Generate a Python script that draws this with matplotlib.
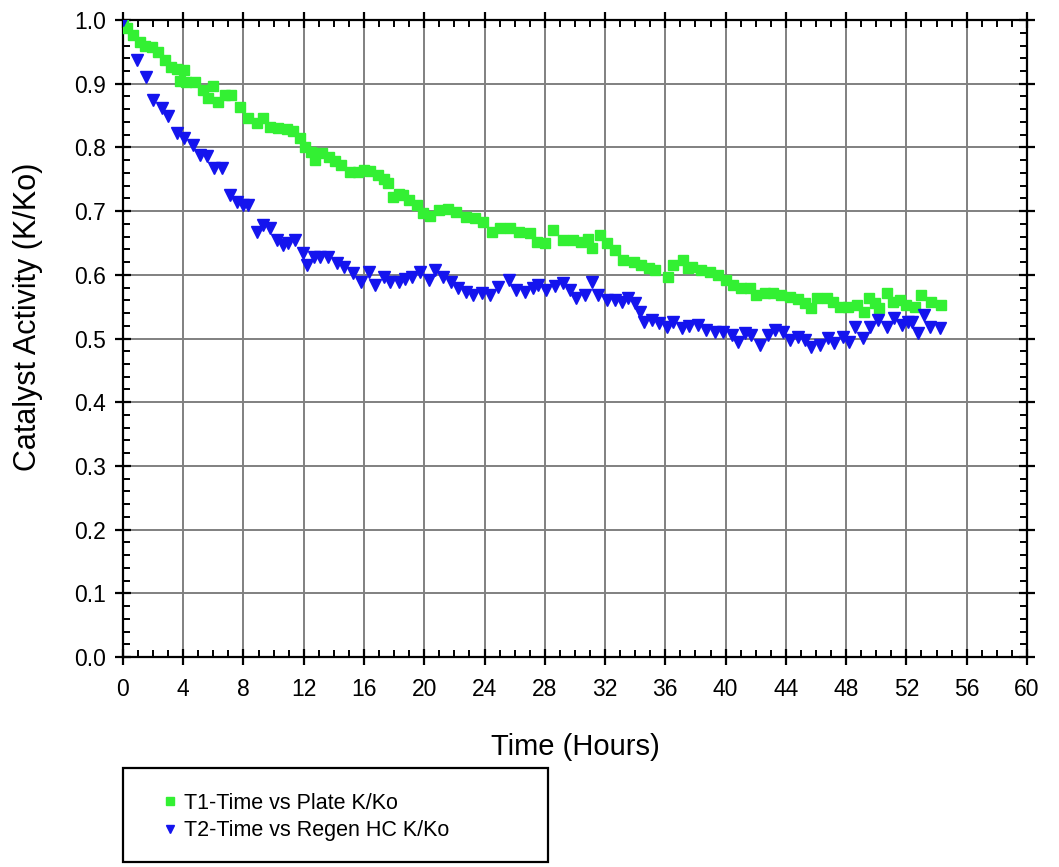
import matplotlib
matplotlib.use("Agg")
import matplotlib.pyplot as plt
from matplotlib.patches import Rectangle
from matplotlib.ticker import MultipleLocator

plt.rcParams['font.family'] = ['Liberation Sans', 'DejaVu Sans']

# T1 - Plate K/Ko (green squares)
t1_time = [0, 0.25, 0.68, 1.13, 1.46, 1.9, 2.34, 2.8, 3.2, 3.56, 3.8, 4.07, 4.2, 4.78,
           5.3, 5.66, 6.0, 6.3, 6.77, 7.2, 7.76, 8.3, 8.87, 9.3, 9.75, 10.3, 10.86,
           11.3, 11.75, 12.1, 12.5, 12.74, 13.2, 13.7, 14.1, 14.5, 15.06, 15.6, 16.0,
           16.4, 16.9, 17.3, 17.6, 17.9, 18.3, 18.6, 19.0, 19.5, 19.9, 20.4, 21.0,
           21.6, 22.1, 22.8, 23.4, 23.9, 24.5, 25.0, 25.7, 26.3, 27.0, 27.45, 28.0,
           28.55, 29.2, 29.9, 30.4, 30.9, 31.1, 31.65, 32.1, 32.65, 33.2, 33.9, 34.4,
           34.9, 35.3, 36.2, 36.5, 37.2, 37.5, 37.8, 38.4, 38.95, 39.5, 40.06, 40.5,
           41.05, 41.6, 42.05, 42.6, 43.15, 43.7, 44.3, 44.8, 45.25, 45.7, 46.1, 46.7,
           47.1, 47.6, 48.1, 48.7, 49.2, 49.5, 49.9, 50.2, 50.7, 51.1, 51.6, 52.0,
           52.55, 53.0, 53.66, 54.3]
t1_kko = [1.0, 0.987, 0.976, 0.965, 0.96, 0.958, 0.95, 0.937, 0.926, 0.923, 0.905, 0.921,
          0.903, 0.903, 0.89, 0.877, 0.896, 0.871, 0.882, 0.882, 0.863, 0.846, 0.838,
          0.846, 0.832, 0.83, 0.829, 0.826, 0.815, 0.80, 0.793, 0.78, 0.791, 0.785,
          0.778, 0.772, 0.761, 0.761, 0.764, 0.763, 0.757, 0.75, 0.744, 0.722, 0.727,
          0.725, 0.717, 0.71, 0.697, 0.693, 0.702, 0.703, 0.699, 0.691, 0.689, 0.683,
          0.667, 0.673, 0.673, 0.667, 0.665, 0.651, 0.65, 0.67, 0.654, 0.654, 0.651,
          0.657, 0.642, 0.662, 0.65, 0.639, 0.623, 0.62, 0.615, 0.61, 0.607, 0.597,
          0.615, 0.623, 0.61, 0.612, 0.607, 0.604, 0.60, 0.592, 0.584, 0.579, 0.579,
          0.568, 0.571, 0.571, 0.568, 0.565, 0.562, 0.556, 0.548, 0.564, 0.564, 0.557,
          0.549, 0.549, 0.553, 0.542, 0.564, 0.556, 0.548, 0.571, 0.557, 0.56, 0.553,
          0.549, 0.568, 0.557, 0.553]

# T2 - Regen HC K/Ko (blue triangles)
t2_time = [0, 0.91, 1.5, 2.0, 2.57, 3.0, 3.56, 4.07, 4.67, 5.1, 5.6, 6.06, 6.55, 7.1,
           7.6, 8.0, 8.3, 8.87, 9.3, 9.75, 10.2, 10.6, 10.97, 11.4, 11.96, 12.2, 12.7,
           13.1, 13.6, 14.2, 14.7, 15.3, 15.8, 16.3, 16.7, 17.3, 17.7, 18.3, 18.7,
           19.2, 19.7, 20.3, 20.7, 21.25, 21.8, 22.25, 22.8, 23.25, 23.8, 24.35, 24.9,
           25.6, 26.1, 26.7, 27.2, 27.55, 28.1, 28.7, 29.2, 29.66, 30.1, 30.65, 31.1,
           31.5, 32.1, 32.65, 33.1, 33.5, 33.97, 34.3, 34.6, 35.1, 35.6, 36.1, 36.5,
           37.1, 37.6, 38.2, 38.7, 39.3, 39.8, 40.4, 40.8, 41.3, 41.7, 42.3, 42.8,
           43.3, 43.8, 44.3, 44.8, 45.25, 45.7, 46.25, 46.8, 47.2, 47.8, 48.2, 48.6,
           49.1, 49.6, 50.1, 50.7, 51.2, 51.7, 52.1, 52.4, 52.8, 53.2, 53.55, 54.2]
t2_kko = [1.0, 0.937, 0.91, 0.874, 0.862, 0.849, 0.823, 0.815, 0.804, 0.788, 0.786, 0.768,
          0.768, 0.725, 0.714, 0.71, 0.71, 0.667, 0.678, 0.673, 0.654, 0.647, 0.65,
          0.654, 0.634, 0.615, 0.628, 0.628, 0.628, 0.618, 0.612, 0.603, 0.589, 0.604,
          0.584, 0.597, 0.589, 0.589, 0.593, 0.597, 0.604, 0.592, 0.608, 0.597, 0.589,
          0.579, 0.573, 0.568, 0.571, 0.568, 0.581, 0.592, 0.576, 0.573, 0.579, 0.584,
          0.576, 0.582, 0.587, 0.576, 0.563, 0.568, 0.589, 0.568, 0.56, 0.56, 0.557,
          0.563, 0.555, 0.542, 0.526, 0.529, 0.524, 0.518, 0.526, 0.516, 0.52, 0.521,
          0.513, 0.51, 0.51, 0.505, 0.495, 0.509, 0.505, 0.49, 0.505, 0.513, 0.51,
          0.498, 0.502, 0.498, 0.487, 0.49, 0.501, 0.493, 0.502, 0.495, 0.518, 0.501,
          0.518, 0.529, 0.518, 0.532, 0.521, 0.526, 0.526, 0.509, 0.537, 0.518, 0.516]

fig = plt.figure(figsize=(10.59, 8.67), dpi=100)
ax = fig.add_axes([0.1161, 0.2422, 0.8536, 0.7347])

ax.plot(t1_time, t1_kko, 's', color='#33f033', ms=7, mec='#33f033',
        label='T1-Time vs Plate K/Ko', zorder=3)
ax.plot(t2_time, t2_kko, 'v', color='#1414ee', ms=8, mec='#1414ee',
        label='T2-Time vs Regen HC K/Ko', zorder=3)

ax.set_xlim(0, 60)
ax.set_ylim(0, 1.0)
ax.xaxis.set_major_locator(MultipleLocator(4))
ax.xaxis.set_minor_locator(MultipleLocator(1))
ax.yaxis.set_major_locator(MultipleLocator(0.1))
ax.yaxis.set_minor_locator(MultipleLocator(0.02))
ax.yaxis.set_major_formatter(plt.FormatStrFormatter('%.1f'))

ax.grid(True, which='major', color='#808080', linewidth=1.4)
ax.set_axisbelow(True)
for s in ax.spines.values():
    s.set_linewidth(1.6)
    s.set_color('black')

ax.tick_params(which='major', direction='inout', length=12, width=1.6,
               top=True, right=True, labelsize=16.5)
ax.tick_params(axis='y', which='major', pad=6)
ax.tick_params(axis='x', which='major', pad=9)
ax.tick_params(which='minor', direction='in', length=5, width=1.4,
               top=True, right=True)

ax.set_xlabel('Time (Hours)', fontsize=21, labelpad=23)
ax.set_ylabel('Catalyst Activity (K/Ko)', fontsize=22)
ax.yaxis.set_label_coords(-0.088, 0.534)

# legend box below the plot
fig.patches.append(Rectangle((123 / 1059, 1 - 862 / 867), 425 / 1059, 94 / 867,
                             transform=fig.transFigure, fill=False,
                             edgecolor='black', linewidth=1.6))
ax.legend(loc='upper left', bbox_to_anchor=(153 / 1059, 1 - 782 / 867),
          bbox_transform=fig.transFigure, frameon=False, fontsize=15.5,
          markerscale=0.8, handletextpad=0.35, labelspacing=0.3,
          handlelength=0.6, borderpad=0)

fig.savefig('out.png', dpi=100)
